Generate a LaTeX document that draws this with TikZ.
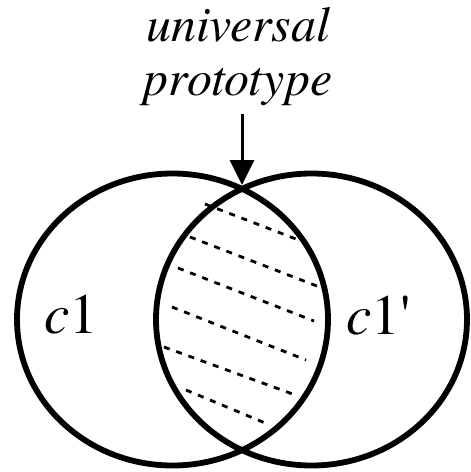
\documentclass[tikz,border=0pt]{standalone}
\usepackage{fontspec}
\setmainfont{TeX Gyre Termes}
\usetikzlibrary{arrows.meta}
\tikzset{
  setline/.style={line width=5.8pt},
  hatchline/.style={line width=2.8pt, dash pattern=on 6pt off 7pt},
  biglabel/.style={inner sep=0pt, font=\rmfamily\fontsize{57}{62}\selectfont},
  toplabel/.style={inner sep=0pt, align=center, font=\rmfamily\itshape\fontsize{50}{54}\selectfont},
  pointer/.style={line width=3pt, -{Triangle[length=25pt,width=24pt]}}
}
\begin{document}
\begin{tikzpicture}[x=1pt,y=-1pt]
\useasboundingbox (0,0) rectangle (471,472);
% sets
\draw[setline] (172.5,319.5) ellipse [x radius=155.5, y radius=146];
\draw[setline] (311.5,319.5) ellipse [x radius=155.5, y radius=146];
% hatch of the intersection
\draw[hatchline] (205,204) -- (296,239);
\draw[hatchline] (190,237) -- (322,288);
\draw[hatchline] (178,268) -- (314,321);
\draw[hatchline] (172,307) -- (306,360);
\draw[hatchline] (164,347) -- (298,396);
\draw[hatchline] (186,390) -- (270,425);
% labels
\node[biglabel, anchor=base west] (c1) at (44,333) {{\itshape c}1};
\node[biglabel, anchor=base west] (c1p) at (346,334) {{\itshape c}1\textquotesingle};
\node[toplabel, anchor=north] (proto) at (238,7) {universal\\prototype};
% pointer
\coordinate (tail) at (242,114);
\coordinate (apex) at (242,185);
\draw[pointer] (tail) -- (apex);
\end{tikzpicture}
\end{document}
